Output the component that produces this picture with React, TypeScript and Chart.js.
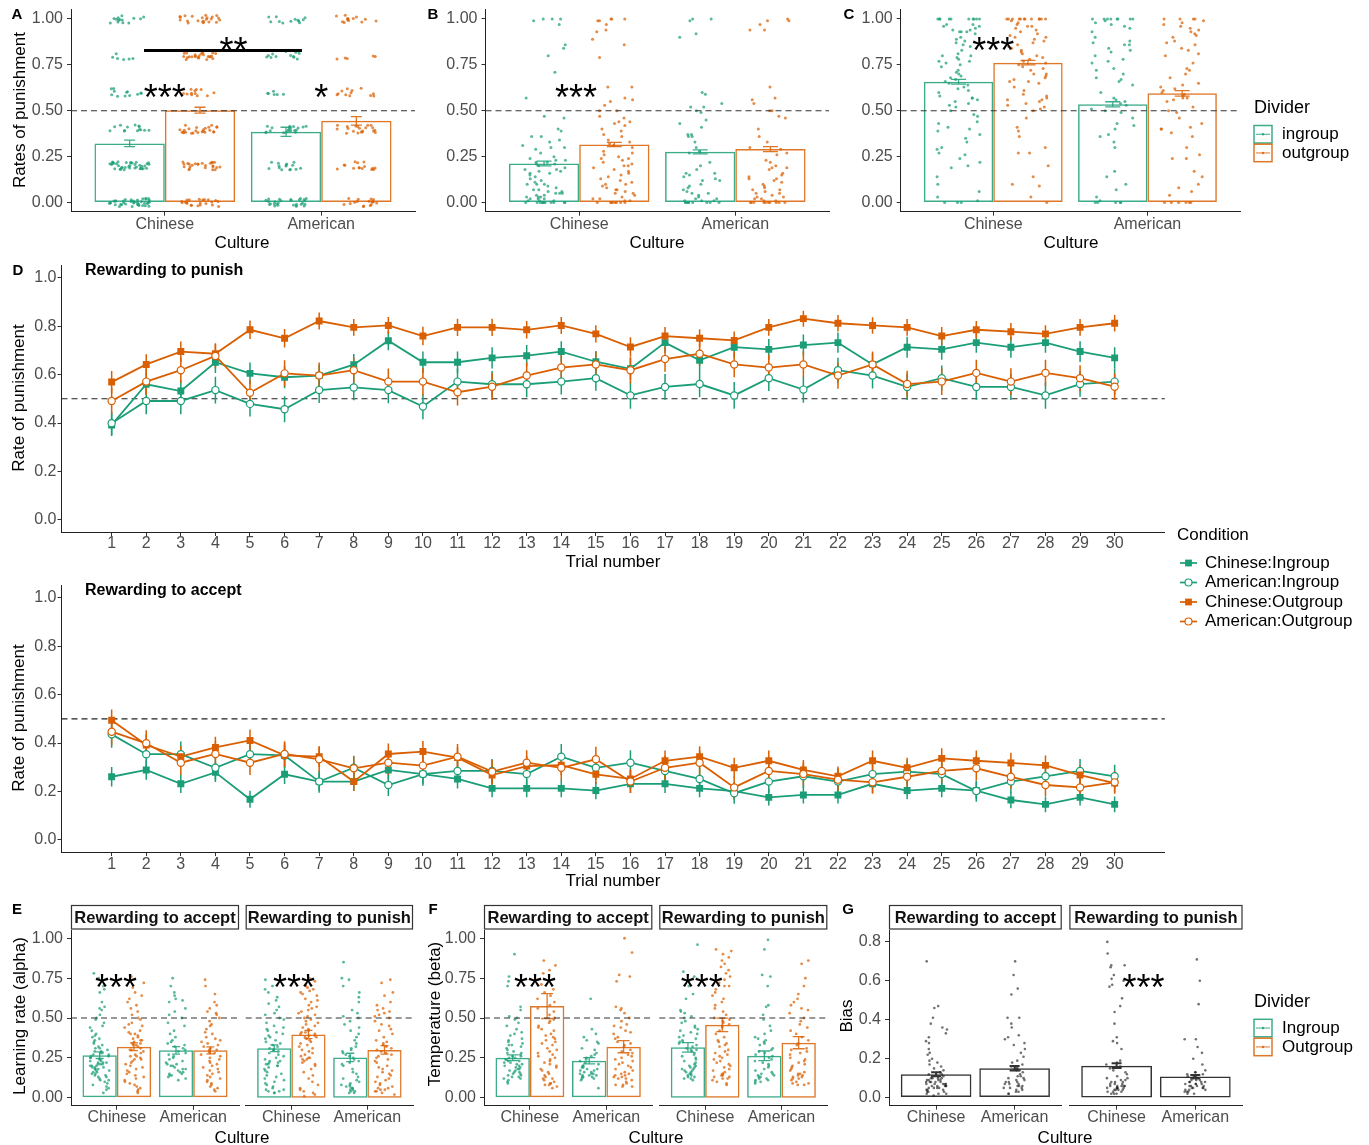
import React, { useEffect, useRef } from "react";
import { Chart, registerables } from "chart.js";

Chart.register(...registerables);

const FONT = '"Liberation Sans", Arial, Helvetica, sans-serif';
Chart.defaults.font.family = FONT;

// ---------- colours ----------
const GREEN = "#1B9E77";
const ORANGE = "#D95F02";
const GREEN_BAR = "rgba(27,158,119,0.85)";
const ORANGE_BAR = "rgba(217,95,2,0.85)";
const GREEN_PT = "rgba(27,158,119,0.72)";
const ORANGE_PT = "rgba(217,95,2,0.72)";
const GREY_BAR = "#333333";
const GREY_PT = "rgba(20,20,20,0.6)";
const TICK_COLOR = "#4D4D4D";
const AXIS_COLOR = "#222222";

// ---------- labels ----------
const CULTURES = ["Chinese", "American"];
const DIVIDERS = ["ingroup", "outgroup"];
const DIVIDERS_CAP = ["Ingroup", "Outgroup"];
const CONDITIONS = ["Chinese:Ingroup", "American:Ingroup", "Chinese:Outgroup", "American:Outgroup"];
const TRIALS = [1, 2, 3, 4, 5, 6, 7, 8, 9, 10, 11, 12, 13, 14, 15, 16, 17, 18, 19, 20, 21, 22, 23, 24, 25, 26, 27, 28, 29, 30];
const RATE_TICKS = [0, 0.25, 0.5, 0.75, 1];
const D_TICKS = [0, 0.2, 0.4, 0.6, 0.8, 1];
const BIAS_TICKS = [0, 0.2, 0.4, 0.6, 0.8];

// ---------- panel A (rates take discrete levels; counts of participants per level) ----------
const A_LEVELS = [0, 0.2, 0.4, 0.6, 0.8, 1];
const A_CN_IN_N = [40, 38, 14, 12, 6, 14];
const A_CN_OUT_N = [22, 25, 25, 12, 25, 22];
const A_US_IN_N = [28, 15, 20, 6, 12, 12];
const A_US_OUT_N = [17, 15, 20, 12, 5, 13];
const A_BAR_IN = [0.322, 0.385];
const A_BAR_OUT = [0.503, 0.445];
const A_SE_IN = [0.018, 0.025];
const A_SE_OUT = [0.016, 0.023];

// ---------- panel B (values in hundredths) ----------
const B_CN_IN = [100, 100, 99, 100, 97, 86, 84, 80, 71, 57, 47, 46, 40, 39, 36, 36, 34, 33, 31, 30, 30, 29, 27, 25, 24, 23, 23, 22, 22, 21, 21, 20, 19, 18, 18, 17, 17, 16, 16, 15, 14, 13, 12, 11, 10, 10, 10, 9, 8, 7, 7, 6, 6, 5, 5, 5, 4, 4, 3, 3, 3, 2, 2, 2, 1, 1, 1, 0, 0, 0, 0, 0, 0, 0, 0, 0, 0, 0];
const B_CN_OUT = [100, 100, 99, 100, 99, 97, 94, 93, 89, 86, 79, 63, 63, 57, 56, 55, 53, 50, 50, 47, 46, 44, 44, 43, 42, 40, 39, 37, 36, 34, 33, 32, 31, 30, 28, 27, 26, 25, 24, 24, 23, 22, 21, 20, 20, 19, 18, 17, 16, 15, 14, 13, 12, 11, 10, 10, 9, 8, 7, 7, 6, 5, 5, 4, 3, 2, 2, 1, 1, 0, 0, 0, 0, 0, 0, 0, 0];
const B_US_IN = [100, 100, 99, 92, 90, 60, 59, 54, 52, 52, 50, 49, 45, 43, 41, 37, 37, 36, 36, 33, 30, 28, 27, 22, 20, 18, 16, 16, 15, 14, 13, 12, 12, 10, 9, 8, 7, 6, 5, 5, 4, 3, 2, 2, 1, 1, 1, 0, 0, 0, 0, 0, 0, 0, 0, 0];
const B_US_OUT = [100, 99, 99, 97, 94, 94, 63, 57, 56, 54, 50, 50, 47, 46, 40, 36, 33, 30, 29, 27, 26, 23, 22, 20, 19, 19, 18, 16, 15, 14, 13, 13, 12, 11, 10, 9, 8, 7, 7, 6, 5, 5, 4, 3, 3, 2, 2, 1, 1, 0, 0, 0, 0, 0, 0, 0, 0, 0, 0];
const B_BAR_IN = [0.213, 0.276];
const B_BAR_OUT = [0.316, 0.291];
const B_SE_IN = [0.013, 0.011];
const B_SE_OUT = [0.012, 0.014];

// ---------- panel C ----------
const C_CN_IN = [100, 100, 100, 100, 100, 100, 100, 100, 100, 100, 97, 97, 96, 96, 95, 94, 94, 93, 93, 93, 92, 90, 89, 88, 87, 86, 85, 83, 81, 80, 80, 79, 78, 77, 77, 76, 75, 74, 72, 71, 70, 69, 68, 67, 66, 65, 64, 63, 62, 61, 60, 58, 57, 57, 56, 55, 54, 53, 52, 50, 48, 47, 44, 43, 41, 40, 39, 37, 35, 33, 30, 29, 27, 26, 24, 22, 20, 19, 14, 10, 6, 3, 1, 0, 0, 0];
const C_CN_OUT = [100, 100, 100, 100, 100, 100, 100, 100, 100, 100, 100, 100, 99, 98, 97, 96, 96, 95, 94, 93, 92, 91, 90, 90, 89, 88, 87, 86, 85, 84, 83, 82, 81, 80, 79, 78, 77, 76, 75, 74, 73, 72, 70, 70, 69, 68, 67, 66, 66, 65, 63, 61, 59, 58, 57, 56, 56, 55, 54, 53, 52, 51, 50, 46, 41, 39, 36, 30, 27, 27, 20, 14, 10, 9, 3, 0];
const C_US_IN = [100, 100, 100, 100, 100, 100, 100, 100, 99, 98, 97, 96, 95, 93, 90, 88, 87, 86, 86, 84, 83, 82, 80, 78, 77, 76, 73, 72, 70, 68, 67, 66, 64, 60, 57, 56, 55, 54, 53, 51, 50, 49, 46, 43, 42, 40, 37, 36, 33, 30, 17, 14, 10, 7, 3, 1, 0, 0, 0, 0, 0];
const C_US_OUT = [100, 100, 100, 100, 99, 98, 97, 96, 95, 94, 93, 92, 91, 90, 88, 87, 86, 84, 83, 81, 80, 76, 73, 72, 70, 68, 65, 64, 63, 62, 61, 60, 59, 58, 57, 57, 56, 55, 52, 50, 49, 46, 43, 41, 40, 40, 38, 36, 30, 26, 24, 24, 17, 14, 10, 8, 6, 4, 0, 0, 0, 0, 0, 0];
const C_BAR_IN = [0.658, 0.535];
const C_BAR_OUT = [0.762, 0.595];
const C_SE_IN = [0.013, 0.014];
const C_SE_OUT = [0.012, 0.015];

// ---------- panel D (trial-by-trial means) ----------
const PUN_CN_IN = [0.392, 0.56, 0.532, 0.651, 0.605, 0.589, 0.596, 0.641, 0.74, 0.651, 0.651, 0.669, 0.678, 0.695, 0.653, 0.624, 0.732, 0.659, 0.713, 0.704, 0.722, 0.732, 0.642, 0.713, 0.704, 0.732, 0.713, 0.732, 0.695, 0.669];
const PUN_US_IN = [0.399, 0.491, 0.491, 0.536, 0.479, 0.457, 0.536, 0.547, 0.536, 0.468, 0.571, 0.56, 0.56, 0.571, 0.585, 0.514, 0.549, 0.561, 0.514, 0.585, 0.538, 0.618, 0.596, 0.549, 0.585, 0.549, 0.549, 0.514, 0.561, 0.571];
const PUN_CN_OUT = [0.569, 0.642, 0.695, 0.686, 0.785, 0.75, 0.821, 0.795, 0.803, 0.759, 0.795, 0.795, 0.785, 0.803, 0.768, 0.714, 0.759, 0.75, 0.741, 0.795, 0.831, 0.812, 0.803, 0.795, 0.759, 0.785, 0.777, 0.768, 0.795, 0.812];
const PUN_US_OUT = [0.491, 0.571, 0.618, 0.677, 0.525, 0.605, 0.596, 0.618, 0.571, 0.571, 0.527, 0.55, 0.596, 0.629, 0.642, 0.618, 0.664, 0.686, 0.642, 0.629, 0.642, 0.596, 0.642, 0.561, 0.571, 0.607, 0.571, 0.607, 0.585, 0.55];
const PUN_CN_IN_SE = [0.046, 0.045, 0.045, 0.044, 0.045, 0.045, 0.045, 0.044, 0.04, 0.044, 0.044, 0.044, 0.044, 0.043, 0.044, 0.045, 0.042, 0.044, 0.043, 0.043, 0.043, 0.042, 0.045, 0.043, 0.043, 0.042, 0.043, 0.042, 0.043, 0.044];
const PUN_US_IN_SE = [0.048, 0.055, 0.055, 0.055, 0.052, 0.054, 0.053, 0.053, 0.054, 0.052, 0.054, 0.055, 0.054, 0.053, 0.052, 0.055, 0.053, 0.054, 0.055, 0.053, 0.054, 0.052, 0.053, 0.054, 0.052, 0.053, 0.054, 0.055, 0.053, 0.054];
const PUN_CN_OUT_SE = [0.046, 0.042, 0.042, 0.04, 0.038, 0.038, 0.035, 0.035, 0.035, 0.038, 0.036, 0.036, 0.036, 0.035, 0.036, 0.04, 0.037, 0.037, 0.037, 0.035, 0.033, 0.034, 0.034, 0.035, 0.037, 0.036, 0.036, 0.036, 0.035, 0.034];
const PUN_US_OUT_SE = [0.055, 0.054, 0.053, 0.052, 0.055, 0.054, 0.054, 0.053, 0.054, 0.056, 0.055, 0.055, 0.054, 0.053, 0.052, 0.054, 0.052, 0.051, 0.053, 0.053, 0.053, 0.054, 0.053, 0.055, 0.055, 0.054, 0.055, 0.054, 0.054, 0.055];

const ACC_CN_IN = [0.261, 0.289, 0.232, 0.279, 0.168, 0.271, 0.241, 0.241, 0.289, 0.272, 0.252, 0.213, 0.213, 0.213, 0.204, 0.232, 0.232, 0.213, 0.202, 0.176, 0.186, 0.186, 0.232, 0.204, 0.213, 0.204, 0.165, 0.147, 0.176, 0.147];
const ACC_US_IN = [0.436, 0.354, 0.354, 0.298, 0.354, 0.349, 0.241, 0.298, 0.227, 0.272, 0.285, 0.285, 0.272, 0.344, 0.298, 0.319, 0.285, 0.252, 0.193, 0.241, 0.263, 0.241, 0.272, 0.282, 0.272, 0.202, 0.241, 0.263, 0.285, 0.263];
const ACC_CN_OUT = [0.494, 0.392, 0.344, 0.382, 0.411, 0.349, 0.344, 0.241, 0.355, 0.365, 0.34, 0.268, 0.305, 0.309, 0.271, 0.252, 0.327, 0.344, 0.298, 0.327, 0.289, 0.263, 0.327, 0.298, 0.337, 0.327, 0.318, 0.308, 0.268, 0.235];
const ACC_US_OUT = [0.447, 0.399, 0.319, 0.355, 0.319, 0.355, 0.333, 0.296, 0.319, 0.307, 0.344, 0.282, 0.319, 0.298, 0.333, 0.241, 0.298, 0.319, 0.217, 0.285, 0.272, 0.249, 0.238, 0.261, 0.285, 0.296, 0.261, 0.227, 0.217, 0.238];
const ACC_CN_IN_SE = [0.04, 0.04, 0.038, 0.04, 0.035, 0.04, 0.038, 0.038, 0.04, 0.04, 0.039, 0.037, 0.037, 0.037, 0.036, 0.038, 0.038, 0.037, 0.036, 0.034, 0.035, 0.035, 0.038, 0.036, 0.037, 0.036, 0.034, 0.032, 0.034, 0.032];
const ACC_US_IN_SE = [0.055, 0.052, 0.052, 0.05, 0.052, 0.052, 0.046, 0.05, 0.045, 0.048, 0.049, 0.049, 0.048, 0.052, 0.05, 0.051, 0.049, 0.047, 0.043, 0.046, 0.048, 0.046, 0.048, 0.049, 0.048, 0.044, 0.046, 0.048, 0.049, 0.048];
const ACC_CN_OUT_SE = [0.045, 0.044, 0.043, 0.044, 0.045, 0.043, 0.043, 0.039, 0.043, 0.044, 0.043, 0.04, 0.042, 0.042, 0.04, 0.04, 0.042, 0.043, 0.041, 0.042, 0.041, 0.04, 0.042, 0.041, 0.042, 0.042, 0.042, 0.041, 0.04, 0.039];
const ACC_US_OUT_SE = [0.055, 0.054, 0.051, 0.053, 0.051, 0.053, 0.052, 0.05, 0.051, 0.051, 0.052, 0.049, 0.051, 0.05, 0.052, 0.047, 0.05, 0.051, 0.045, 0.049, 0.049, 0.047, 0.047, 0.048, 0.049, 0.05, 0.048, 0.046, 0.045, 0.047];

// ---------- panel E (learning rate, hundredths) ----------
const E_ACC_CN_IN = [78, 75, 70, 68, 66, 60, 57, 56, 55, 52, 50, 49, 47, 45, 44, 42, 40, 39, 38, 37, 36, 35, 34, 33, 32, 31, 31, 30, 29, 29, 28, 28, 27, 27, 26, 26, 25, 25, 24, 24, 23, 23, 22, 22, 22, 21, 21, 21, 20, 20, 20, 19, 19, 19, 18, 18, 18, 17, 17, 16, 16, 15, 15, 14, 14, 13, 13, 12, 11, 11, 10, 9, 8, 7, 6, 5, 3];
const E_ACC_CN_OUT = [76, 74, 72, 69, 66, 64, 62, 60, 58, 56, 54, 52, 50, 49, 47, 46, 45, 44, 42, 41, 40, 40, 39, 38, 37, 36, 36, 35, 34, 34, 33, 33, 32, 31, 30, 30, 29, 28, 27, 26, 26, 25, 24, 24, 23, 22, 21, 20, 19, 18, 17, 16, 15, 14, 13, 12, 11, 10, 9, 8, 7, 6, 5, 4, 3];
const E_ACC_US_IN = [75, 70, 66, 64, 62, 61, 60, 56, 54, 52, 50, 47, 45, 42, 40, 38, 36, 35, 34, 33, 32, 31, 30, 29, 28, 27, 26, 25, 24, 23, 22, 21, 21, 20, 20, 19, 18, 18, 17, 16, 16, 15, 15, 14, 14, 13, 12, 11];
const E_ACC_US_OUT = [74, 70, 65, 60, 58, 56, 54, 53, 52, 50, 48, 46, 45, 43, 41, 40, 38, 37, 36, 35, 34, 33, 32, 31, 30, 30, 29, 28, 28, 27, 26, 25, 24, 23, 22, 21, 20, 19, 18, 17, 16, 15, 14, 13, 12, 11, 10, 9, 8, 7, 6, 5, 4];
const E_PUN_CN_IN = [74, 70, 68, 66, 63, 61, 59, 57, 55, 53, 52, 50, 49, 47, 45, 44, 43, 42, 41, 40, 39, 38, 37, 36, 35, 34, 33, 32, 31, 30, 30, 29, 28, 27, 26, 25, 24, 23, 23, 22, 22, 21, 21, 20, 20, 19, 18, 17, 16, 15, 14, 13, 12, 11, 10, 9, 8, 7, 6, 5, 5, 4, 4, 3, 3];
const E_PUN_CN_OUT = [75, 73, 70, 69, 68, 67, 66, 65, 64, 62, 61, 60, 58, 57, 56, 55, 54, 53, 52, 51, 50, 49, 48, 47, 46, 45, 44, 43, 42, 41, 41, 40, 40, 39, 39, 38, 38, 37, 36, 35, 34, 33, 32, 31, 30, 29, 28, 27, 26, 25, 25, 24, 24, 23, 22, 21, 20, 18, 16, 14, 12, 10, 8, 6, 5, 4, 3, 2, 1];
const E_PUN_US_IN = [85, 75, 74, 70, 66, 63, 60, 55, 53, 51, 50, 48, 46, 44, 42, 40, 38, 36, 34, 32, 31, 30, 29, 28, 27, 26, 25, 24, 23, 22, 21, 20, 18, 16, 15, 13, 12, 11, 10, 9, 8, 8, 7, 7, 6, 6, 5, 5, 4, 4, 3, 3];
const E_PUN_US_OUT = [74, 72, 66, 64, 60, 58, 56, 55, 54, 53, 52, 51, 50, 48, 46, 45, 43, 42, 40, 38, 36, 35, 34, 33, 32, 31, 30, 29, 28, 27, 26, 25, 24, 23, 22, 20, 19, 18, 17, 16, 15, 14, 13, 12, 11, 10, 9, 8, 7, 6, 6, 5, 5, 4, 4, 3, 2];
const E_ACC_BAR_IN = [0.267, 0.297];
const E_ACC_BAR_OUT = [0.32, 0.297];
const E_ACC_SE_IN = [0.021, 0.023];
const E_ACC_SE_OUT = [0.024, 0.022];
const E_PUN_BAR_IN = [0.31, 0.253];
const E_PUN_BAR_OUT = [0.397, 0.3];
const E_PUN_SE_IN = [0.021, 0.026];
const E_PUN_SE_OUT = [0.026, 0.027];

// ---------- panel F (temperature, hundredths) ----------
const F_ACC_CN_IN = [90, 76, 73, 70, 57, 55, 51, 50, 49, 47, 45, 43, 41, 40, 39, 37, 36, 35, 34, 33, 33, 32, 31, 30, 29, 28, 28, 27, 26, 26, 25, 25, 24, 24, 23, 23, 22, 22, 21, 21, 20, 20, 19, 19, 18, 18, 17, 17, 16, 16, 15, 15, 14, 14, 13, 13, 12, 12, 11, 10, 9];
const F_ACC_CN_OUT = [86, 83, 80, 78, 74, 71, 68, 66, 64, 62, 60, 58, 56, 54, 52, 50, 49, 48, 47, 45, 44, 43, 42, 40, 39, 38, 37, 36, 35, 34, 33, 31, 30, 29, 28, 27, 26, 25, 24, 23, 22, 21, 20, 19, 18, 17, 16, 15, 14, 13, 12, 12, 11, 10, 9, 9, 8, 8, 7, 6];
const F_ACC_US_IN = [62, 43, 40, 38, 36, 35, 34, 31, 30, 28, 27, 26, 25, 24, 23, 22, 21, 20, 20, 19, 19, 18, 18, 17, 17, 16, 16, 15, 15, 15, 14, 14, 14, 13, 13, 13, 12, 12, 11, 6];
const F_ACC_US_OUT = [100, 91, 77, 76, 73, 57, 56, 55, 53, 50, 48, 46, 45, 44, 42, 41, 40, 38, 37, 35, 34, 33, 32, 30, 29, 28, 27, 26, 25, 24, 23, 22, 21, 20, 19, 18, 17, 16, 15, 15, 14, 14, 13, 13, 12, 12, 11, 10, 9, 8, 8, 7, 7];
const F_PUN_CN_IN = [96, 79, 76, 73, 70, 65, 62, 55, 54, 53, 51, 50, 48, 47, 45, 44, 43, 42, 41, 40, 39, 38, 37, 36, 35, 35, 34, 33, 32, 31, 30, 30, 29, 28, 27, 26, 25, 24, 23, 22, 21, 20, 20, 19, 19, 18, 18, 17, 17, 16, 16, 15, 15, 14, 14, 13, 13, 12, 12, 11];
const F_PUN_CN_OUT = [93, 92, 90, 88, 86, 84, 82, 80, 78, 76, 74, 72, 70, 70, 68, 66, 64, 62, 60, 58, 56, 54, 52, 50, 49, 48, 47, 46, 45, 44, 42, 40, 38, 36, 35, 34, 33, 32, 30, 29, 28, 27, 26, 25, 24, 23, 22, 21, 20, 19, 18, 17, 16, 15, 15, 14, 14, 13, 13, 12, 12, 11, 10, 9, 8];
const F_PUN_US_IN = [99, 93, 77, 76, 70, 58, 57, 52, 49, 45, 42, 40, 38, 37, 36, 35, 34, 33, 31, 30, 29, 28, 27, 26, 25, 24, 23, 22, 21, 20, 19, 18, 17, 16, 15, 15, 14, 14, 13, 13, 12, 12, 11, 11, 10, 10, 9];
const F_PUN_US_OUT = [86, 84, 75, 70, 65, 62, 60, 58, 56, 55, 53, 50, 48, 46, 44, 42, 40, 38, 36, 34, 33, 31, 30, 29, 28, 27, 25, 24, 23, 22, 21, 20, 19, 18, 17, 16, 15, 15, 14, 14, 13, 13, 12, 12, 11, 10, 9, 9, 8, 8];
const F_ACC_BAR_IN = [0.251, 0.232];
const F_ACC_BAR_OUT = [0.575, 0.32];
const F_ACC_SE_IN = [0.018, 0.02];
const F_ACC_SE_OUT = [0.078, 0.038];
const F_PUN_BAR_IN = [0.316, 0.263];
const F_PUN_BAR_OUT = [0.457, 0.345];
const F_PUN_SE_IN = [0.03, 0.03];
const F_PUN_SE_OUT = [0.042, 0.038];

// ---------- panel G (bias, hundredths) ----------
const G_ACC_CN = [70, 47, 46, 41, 38, 36, 35, 33, 31, 29, 28, 25, 23, 22, 20, 19, 18, 17, 16, 15, 14, 13, 13, 12, 12, 11, 11, 11, 10, 10, 10, 10, 9, 9, 9, 9, 8, 8, 8, 8, 8, 7, 7, 7, 7, 7, 6, 6, 6, 6, 6, 5, 5, 5, 5, 4, 4, 4, 3, 3, 3, 2, 2, 2, 1];
const G_ACC_US = [70, 63, 56, 53, 41, 41, 38, 36, 32, 31, 30, 28, 27, 25, 23, 21, 19, 18, 17, 16, 16, 15, 15, 14, 14, 13, 12, 11, 11, 10, 10, 9, 9, 8, 8, 8, 7, 7, 7, 6, 6, 6, 5, 5, 5, 4, 4, 3, 3, 2, 2];
const G_PUN_CN = [80, 74, 68, 68, 67, 63, 61, 60, 58, 57, 51, 47, 44, 38, 31, 29, 28, 25, 19, 18, 17, 16, 15, 14, 13, 12, 11, 10, 10, 9, 9, 8, 8, 8, 7, 7, 7, 6, 6, 6, 6, 6, 5, 5, 5, 5, 5, 4, 4, 4, 4, 3, 3, 3, 2, 2, 2];
const G_PUN_US = [71, 60, 48, 30, 30, 26, 23, 20, 17, 14, 13, 13, 12, 12, 11, 11, 11, 10, 10, 10, 9, 9, 9, 8, 8, 8, 8, 7, 7, 7, 7, 6, 6, 6, 6, 5, 5, 5, 5, 4, 4, 4, 3, 3, 3, 2, 2];
const G_ACC_BAR = [0.12, 0.151];
const G_ACC_SE = [0.01, 0.012];
const G_PUN_BAR = [0.164, 0.108];
const G_PUN_SE = [0.012, 0.008];

// ---------- helpers ----------
const hund = (a: number[]) => a.map((v) => v / 100);

// deterministic integer hash -> [0,1): used only to spread marker positions (jitter)
function hash01(n: number, salt: number) {
  let h = Math.imul(n + 1, 374761393) ^ Math.imul(salt + 7, 668265263);
  h = Math.imul(h ^ (h >>> 13), 1274126177);
  h ^= h >>> 16;
  return (h >>> 0) / 4294967296;
}

// small vertical spread around each discrete level (position only)
function expandLevels(counts: number[], salt: number) {
  const out: number[] = [];
  counts.forEach((n, k) => {
    for (let i = 0; i < n; i++) {
      out.push(A_LEVELS[k] + (hash01(i + k * 101, salt + 991) - 0.5) * 0.045);
    }
  });
  return out;
}

// deterministic horizontal spread of points inside a bar (position only)
function jitter(vals: number[], cx: number, half: number, salt: number) {
  return vals.map((v, i) => ({ x: cx + (hash01(i, salt) - 0.5) * 2 * half, y: v }));
}

type TextItem = { t: string; x: number; y: number; size: number; bold?: boolean; color?: string; align?: CanvasTextAlign; rot?: boolean };

function drawText(ctx: CanvasRenderingContext2D, it: TextItem, ox: number, oy: number) {
  ctx.save();
  ctx.font = `${it.bold ? "bold " : ""}${it.size}px ${FONT}`;
  ctx.fillStyle = it.color || "#000";
  ctx.textAlign = it.align || "center";
  ctx.textBaseline = "middle";
  const x = it.x - ox;
  const y = it.y - oy;
  if (it.rot) {
    ctx.translate(x, y);
    ctx.rotate(-Math.PI / 2);
    ctx.fillText(it.t, 0, 0);
  } else {
    ctx.fillText(it.t, x, y);
  }
  ctx.restore();
}

function drawStars(ctx: CanvasRenderingContext2D, t: string, px: number, py: number, size: number) {
  ctx.save();
  ctx.font = `${size}px ${FONT}`;
  ctx.fillStyle = "#000";
  ctx.textAlign = "center";
  ctx.textBaseline = "alphabetic";
  const m = ctx.measureText(t);
  ctx.fillText(t, px, py + (m.actualBoundingBoxAscent - m.actualBoundingBoxDescent) / 2);
  ctx.restore();
}

function axisCommon() {
  return {
    grid: { display: true, drawOnChartArea: false, drawTicks: true, tickLength: 4, tickColor: "#333", offset: false },
    border: { display: true, color: AXIS_COLOR, width: 1 },
  };
}

// ---------- bar facet ----------
interface Grp { dx: number; bars: number[]; se: number[]; pts: number[][]; stroke: string; fill: string }
interface LegendSpec { title: string; x: number; titleY: number; keyY: number[]; labels: string[]; colors: string[] }
interface FacetSpec {
  kind: "facet";
  origin: [number, number]; W: number; H: number; area: [number, number, number, number];
  yMin: number; yMax: number; yTicks: number[]; yDigits: number; showY: boolean;
  groups: Grp[]; jitter: number; ptR: number; cap: number; ebWidth: number; xPad: number; salt: number;
  hline?: number; stars?: { t: string; x: number; y: number }[];
  sig?: { x1: number; x2: number; y: number }; strip?: string;
  texts?: TextItem[]; legend?: LegendSpec;
}

function facetPlugin(spec: FacetSpec) {
  const [ox, oy] = spec.origin;
  return {
    id: "facetDeco",
    afterDatasetsDraw(chart: any) {
      const ctx = chart.ctx, xs = chart.scales.x, ys = chart.scales.y, a = chart.chartArea;
      spec.groups.forEach((g) => {
        g.bars.forEach((v, i) => {
          const px = xs.getPixelForValue(i + 1 + g.dx);
          const y1 = ys.getPixelForValue(v - g.se[i]);
          const y2 = ys.getPixelForValue(v + g.se[i]);
          ctx.save();
          ctx.strokeStyle = g.stroke;
          ctx.lineWidth = spec.ebWidth;
          ctx.beginPath();
          ctx.moveTo(px, y1); ctx.lineTo(px, y2);
          ctx.moveTo(px - spec.cap / 2, y1); ctx.lineTo(px + spec.cap / 2, y1);
          ctx.moveTo(px - spec.cap / 2, y2); ctx.lineTo(px + spec.cap / 2, y2);
          ctx.stroke();
          ctx.restore();
        });
      });
      if (spec.hline !== undefined) {
        const py = ys.getPixelForValue(spec.hline);
        ctx.save();
        ctx.strokeStyle = "#333";
        ctx.lineWidth = 1.1;
        ctx.setLineDash([6, 4]);
        ctx.beginPath(); ctx.moveTo(a.left, py); ctx.lineTo(a.right, py); ctx.stroke();
        ctx.restore();
      }
      if (spec.sig) {
        const py = ys.getPixelForValue(spec.sig.y);
        ctx.save();
        ctx.strokeStyle = "#000";
        ctx.lineWidth = 3;
        ctx.beginPath();
        ctx.moveTo(xs.getPixelForValue(spec.sig.x1), py);
        ctx.lineTo(xs.getPixelForValue(spec.sig.x2), py);
        ctx.stroke();
        ctx.restore();
      }
      (spec.stars || []).forEach((s) => drawStars(ctx, s.t, xs.getPixelForValue(s.x), ys.getPixelForValue(s.y), 36));
    },
    afterDraw(chart: any) {
      const ctx = chart.ctx, a = chart.chartArea;
      if (spec.strip) {
        const top = 905 - oy, bot = 929.5 - oy;
        ctx.save();
        ctx.fillStyle = "#fff";
        ctx.fillRect(a.left, top, a.right - a.left, bot - top);
        ctx.strokeStyle = "#333";
        ctx.lineWidth = 1.2;
        ctx.strokeRect(a.left + 0.5, top + 0.5, a.right - a.left - 1, bot - top - 1);
        ctx.font = `bold 16.5px ${FONT}`;
        ctx.fillStyle = "#111";
        ctx.textAlign = "center";
        ctx.textBaseline = "middle";
        ctx.fillText(spec.strip, (a.left + a.right) / 2, (top + bot) / 2 + 1);
        ctx.restore();
      }
      (spec.texts || []).forEach((t) => drawText(ctx, t, ox, oy));
      const lg = spec.legend;
      if (lg) {
        drawText(ctx, { t: lg.title, x: lg.x, y: lg.titleY, size: 18, align: "left" }, ox, oy);
        lg.keyY.forEach((ky, i) => {
          const x = lg.x - ox, y = ky - oy;
          ctx.save();
          ctx.strokeStyle = lg.colors[i];
          ctx.lineWidth = 1.5;
          ctx.strokeRect(x, y, 18, 17.5);
          ctx.lineWidth = 1;
          ctx.beginPath(); ctx.moveTo(x + 2, y + 8.75); ctx.lineTo(x + 16, y + 8.75); ctx.stroke();
          ctx.fillStyle = lg.colors[i];
          ctx.beginPath(); ctx.arc(x + 9, y + 8.75, 1.2, 0, Math.PI * 2); ctx.fill();
          ctx.restore();
          drawText(ctx, { t: lg.labels[i], x: lg.x + 28, y: ky + 9, size: 17, align: "left" }, ox, oy);
        });
      }
    },
  };
}

function facetConfig(spec: FacetSpec): any {
  const [ox, oy] = spec.origin;
  const [L, T, R, B] = spec.area;
  const datasets: any[] = [];
  spec.groups.forEach((g, gi) =>
    g.pts.forEach((vals, ci) =>
      datasets.push({
        type: "scatter",
        data: jitter(vals, ci + 1 + g.dx, spec.jitter, spec.salt * 10 + gi * 3 + ci),
        pointRadius: spec.ptR,
        pointHoverRadius: spec.ptR,
        pointBackgroundColor: g.fill,
        pointBorderWidth: 0,
        showLine: false,
      })
    )
  );
  spec.groups.forEach((g) =>
    datasets.push({
      type: "bar",
      data: g.bars.map((v, i) => ({ x: i + 1, y: v })),
      backgroundColor: "rgba(0,0,0,0)",
      borderColor: g.stroke,
      borderWidth: 1.5,
      borderSkipped: false,
      categoryPercentage: 0.9,
      barPercentage: 1,
    })
  );
  const ac = axisCommon();
  return {
    type: "bar",
    data: { datasets },
    options: {
      responsive: false,
      animation: false,
      devicePixelRatio: 1,
      events: [],
      layout: { padding: { left: 0, top: T - oy, right: ox + spec.W - R, bottom: 0 } },
      plugins: { legend: { display: false }, tooltip: { enabled: false } },
      scales: {
        x: {
          type: "linear",
          min: 0.4,
          max: 2.6,
          offset: false,
          afterBuildTicks: (s: any) => { s.ticks = [{ value: 1 }, { value: 2 }]; },
          afterFit: (s: any) => { s.height = oy + spec.H - B; s.paddingLeft = 0; s.paddingRight = 0; },
          grid: ac.grid,
          border: ac.border,
          ticks: {
            callback: (v: number) => CULTURES[Math.round(v) - 1],
            font: { size: 16, family: FONT, lineHeight: 1 },
            color: TICK_COLOR,
            padding: spec.xPad,
            maxRotation: 0,
            autoSkip: false,
          },
        },
        y: {
          type: "linear",
          min: spec.yMin,
          max: spec.yMax,
          afterBuildTicks: (s: any) => { s.ticks = spec.yTicks.map((v) => ({ value: v })); },
          afterFit: (s: any) => { s.width = L - ox; s.paddingTop = 0; s.paddingBottom = 0; },
          grid: spec.showY ? ac.grid : { display: false },
          border: spec.showY ? ac.border : { display: false },
          ticks: {
            display: spec.showY,
            callback: (v: number) => v.toFixed(spec.yDigits),
            font: { size: 16, family: FONT, lineHeight: 1 },
            color: TICK_COLOR,
            padding: 4,
          },
        },
      },
    },
    plugins: [facetPlugin(spec)],
  };
}

// ---------- line chart (panel D) ----------
interface Series { label: string; vals: number[]; se: number[]; color: string; filled: boolean }
interface LineSpec {
  kind: "line";
  origin: [number, number]; W: number; H: number; area: [number, number, number, number];
  series: Series[]; texts: TextItem[]; legend?: boolean;
}

function drawMarker(ctx: CanvasRenderingContext2D, x: number, y: number, color: string, filled: boolean) {
  ctx.save();
  if (filled) {
    ctx.fillStyle = color;
    ctx.fillRect(x - 3.4, y - 3.4, 6.8, 6.8);
  } else {
    ctx.fillStyle = "#fff";
    ctx.strokeStyle = color;
    ctx.lineWidth = 1.2;
    ctx.beginPath(); ctx.arc(x, y, 3.5, 0, Math.PI * 2); ctx.fill(); ctx.stroke();
  }
  ctx.restore();
}

function linePlugin(spec: LineSpec) {
  const [ox, oy] = spec.origin;
  return {
    id: "lineDeco",
    beforeDatasetsDraw(chart: any) {
      const ctx = chart.ctx, xs = chart.scales.x, ys = chart.scales.y, a = chart.chartArea;
      const py = ys.getPixelForValue(0.5);
      ctx.save();
      ctx.strokeStyle = "#222";
      ctx.lineWidth = 1.1;
      ctx.setLineDash([6, 4]);
      ctx.beginPath(); ctx.moveTo(a.left, py); ctx.lineTo(a.right, py); ctx.stroke();
      ctx.restore();
      spec.series.forEach((s) => {
        ctx.save();
        ctx.strokeStyle = s.color;
        ctx.lineWidth = 1.5;
        ctx.beginPath();
        s.vals.forEach((v, i) => {
          const px = xs.getPixelForValue(TRIALS[i]);
          ctx.moveTo(px, ys.getPixelForValue(v - s.se[i]));
          ctx.lineTo(px, ys.getPixelForValue(v + s.se[i]));
        });
        ctx.stroke();
        ctx.restore();
      });
    },
    afterDraw(chart: any) {
      const ctx = chart.ctx;
      spec.texts.forEach((t) => drawText(ctx, t, ox, oy));
      if (spec.legend) {
        drawText(ctx, { t: "Condition", x: 1177, y: 535, size: 17, align: "left" }, ox, oy);
        const ys = [563, 582.5, 602, 621.5];
        spec.series.forEach((s, i) => {
          const y = ys[i] - oy;
          ctx.save();
          ctx.strokeStyle = s.color;
          ctx.lineWidth = 1.7;
          ctx.beginPath(); ctx.moveTo(1180 - ox, y); ctx.lineTo(1197 - ox, y); ctx.stroke();
          ctx.restore();
          drawMarker(ctx, 1188.5 - ox, y, s.color, s.filled);
          drawText(ctx, { t: s.label, x: 1205, y: ys[i], size: 17, align: "left" }, ox, oy);
        });
      }
    },
  };
}

function lineConfig(spec: LineSpec): any {
  const [ox, oy] = spec.origin;
  const [L, T, R, B] = spec.area;
  const ac = axisCommon();
  const datasets = spec.series
    .map((s) => ({
      type: "line",
      label: s.label,
      data: TRIALS.map((t, i) => ({ x: t, y: s.vals[i] })),
      borderColor: s.color,
      backgroundColor: s.color,
      borderWidth: 1.8,
      tension: 0,
      fill: false,
      pointStyle: s.filled ? "rect" : "circle",
      pointRadius: s.filled ? 4.9 : 3.6,
      pointHoverRadius: s.filled ? 4.9 : 3.6,
      pointBackgroundColor: s.filled ? s.color : "#ffffff",
      pointBorderColor: s.color,
      pointBorderWidth: s.filled ? 0 : 1.2,
    }))
    .reverse();
  return {
    type: "line",
    data: { datasets },
    options: {
      responsive: false,
      animation: false,
      devicePixelRatio: 1,
      events: [],
      layout: { padding: { left: 0, top: T - oy, right: ox + spec.W - R, bottom: 0 } },
      plugins: { legend: { display: false }, tooltip: { enabled: false } },
      scales: {
        x: {
          type: "linear",
          min: -0.45,
          max: 31.45,
          offset: false,
          afterBuildTicks: (s: any) => { s.ticks = TRIALS.map((v) => ({ value: v })); },
          afterFit: (s: any) => { s.height = oy + spec.H - B; s.paddingLeft = 0; s.paddingRight = 0; },
          grid: ac.grid,
          border: ac.border,
          ticks: {
            callback: (v: number) => String(v),
            font: { size: 16, family: FONT, lineHeight: 1 },
            color: TICK_COLOR,
            padding: 0,
            maxRotation: 0,
            autoSkip: false,
          },
        },
        y: {
          type: "linear",
          min: -0.05,
          max: 1.05,
          afterBuildTicks: (s: any) => { s.ticks = D_TICKS.map((v) => ({ value: v })); },
          afterFit: (s: any) => { s.width = L - ox; s.paddingTop = 0; s.paddingBottom = 0; },
          grid: ac.grid,
          border: ac.border,
          ticks: {
            callback: (v: number) => v.toFixed(1),
            font: { size: 16, family: FONT, lineHeight: 1 },
            color: TICK_COLOR,
            padding: 1,
          },
        },
      },
    },
    plugins: [linePlugin(spec)],
  };
}

// ---------- specs ----------
const RATE_Y = { yMin: -0.05, yMax: 1.05, yTicks: RATE_TICKS, yDigits: 2 };

const SPECS: (FacetSpec | LineSpec)[] = [
  {
    kind: "facet", origin: [0, 0], W: 430, H: 255, area: [71, 9.8, 415, 211.7], ...RATE_Y, showY: true, salt: 1,
    groups: [
      { dx: -0.225, bars: A_BAR_IN, se: A_SE_IN, pts: [expandLevels(A_CN_IN_N, 1), expandLevels(A_US_IN_N, 2)], stroke: GREEN_BAR, fill: GREEN_PT },
      { dx: 0.225, bars: A_BAR_OUT, se: A_SE_OUT, pts: [expandLevels(A_CN_OUT_N, 3), expandLevels(A_US_OUT_N, 4)], stroke: ORANGE_BAR, fill: ORANGE_PT },
    ],
    jitter: 0.13, ptR: 1.5, cap: 11, ebWidth: 1.3, xPad: 1, hline: 0.5,
    stars: [{ t: "**", x: 1.44, y: 0.864 }, { t: "***", x: 1.0, y: 0.605 }, { t: "*", x: 2.0, y: 0.605 }],
    sig: { x1: 0.867, x2: 1.877, y: 0.828 },
    texts: [
      { t: "A", x: 17, y: 15, size: 15, bold: true },
      { t: "Rates of punishment", x: 20, y: 110, size: 17, rot: true },
      { t: "Culture", x: 242, y: 243, size: 17 },
    ],
  },
  {
    kind: "facet", origin: [420, 0], W: 425, H: 255, area: [485.5, 9.8, 829, 211.7], ...RATE_Y, showY: true, salt: 2,
    groups: [
      { dx: -0.225, bars: B_BAR_IN, se: B_SE_IN, pts: [hund(B_CN_IN), hund(B_US_IN)], stroke: GREEN_BAR, fill: GREEN_PT },
      { dx: 0.225, bars: B_BAR_OUT, se: B_SE_OUT, pts: [hund(B_CN_OUT), hund(B_US_OUT)], stroke: ORANGE_BAR, fill: ORANGE_PT },
    ],
    jitter: 0.14, ptR: 1.5, cap: 15, ebWidth: 1.3, xPad: 1, hline: 0.5,
    stars: [{ t: "***", x: 0.98, y: 0.607 }],
    texts: [
      { t: "B", x: 433, y: 15, size: 15, bold: true },
      { t: "Culture", x: 657, y: 243, size: 17 },
    ],
  },
  {
    kind: "facet", origin: [840, 0], W: 529, H: 255, area: [900.7, 9.8, 1240, 211.7], ...RATE_Y, showY: true, salt: 3,
    groups: [
      { dx: -0.225, bars: C_BAR_IN, se: C_SE_IN, pts: [hund(C_CN_IN), hund(C_US_IN)], stroke: GREEN_BAR, fill: GREEN_PT },
      { dx: 0.225, bars: C_BAR_OUT, se: C_SE_OUT, pts: [hund(C_CN_OUT), hund(C_US_OUT)], stroke: ORANGE_BAR, fill: ORANGE_PT },
    ],
    jitter: 0.14, ptR: 1.5, cap: 15, ebWidth: 1.3, xPad: 1, hline: 0.5,
    stars: [{ t: "***", x: 1.0, y: 0.862 }],
    texts: [
      { t: "C", x: 849, y: 15, size: 15, bold: true },
      { t: "Culture", x: 1071, y: 243, size: 17 },
    ],
    legend: { title: "Divider", x: 1254, titleY: 108, keyY: [125.5, 144.2], labels: DIVIDERS, colors: [GREEN_BAR, ORANGE_BAR] },
  },
  {
    kind: "line", origin: [0, 255], W: 1369, H: 385, area: [61.5, 265.6, 1164.8, 532],
    series: [
      { label: CONDITIONS[0], vals: PUN_CN_IN, se: PUN_CN_IN_SE, color: GREEN, filled: true },
      { label: CONDITIONS[1], vals: PUN_US_IN, se: PUN_US_IN_SE, color: GREEN, filled: false },
      { label: CONDITIONS[2], vals: PUN_CN_OUT, se: PUN_CN_OUT_SE, color: ORANGE, filled: true },
      { label: CONDITIONS[3], vals: PUN_US_OUT, se: PUN_US_OUT_SE, color: ORANGE, filled: false },
    ],
    texts: [
      { t: "D", x: 18, y: 271, size: 15, bold: true },
      { t: "Rewarding to punish", x: 85, y: 271, size: 16, bold: true, align: "left" },
      { t: "Rate of punishment", x: 19, y: 398, size: 17, rot: true },
      { t: "Trial number", x: 613, y: 562, size: 17 },
    ],
    legend: true,
  },
  {
    kind: "line", origin: [0, 575], W: 1369, H: 320, area: [61.5, 585.6, 1164.8, 852.1],
    series: [
      { label: CONDITIONS[0], vals: ACC_CN_IN, se: ACC_CN_IN_SE, color: GREEN, filled: true },
      { label: CONDITIONS[1], vals: ACC_US_IN, se: ACC_US_IN_SE, color: GREEN, filled: false },
      { label: CONDITIONS[2], vals: ACC_CN_OUT, se: ACC_CN_OUT_SE, color: ORANGE, filled: true },
      { label: CONDITIONS[3], vals: ACC_US_OUT, se: ACC_US_OUT_SE, color: ORANGE, filled: false },
    ],
    texts: [
      { t: "Rewarding to accept", x: 85, y: 591, size: 16, bold: true, align: "left" },
      { t: "Rate of punishment", x: 19, y: 718, size: 17, rot: true },
      { t: "Trial number", x: 613, y: 881.7, size: 17 },
    ],
  },
  // ---- E ----
  {
    kind: "facet", origin: [0, 895], W: 300, H: 250, area: [71, 930.3, 239, 1105.7], ...RATE_Y, showY: true, salt: 4,
    groups: [
      { dx: -0.225, bars: E_ACC_BAR_IN, se: E_ACC_SE_IN, pts: [hund(E_ACC_CN_IN), hund(E_ACC_US_IN)], stroke: GREEN_BAR, fill: GREEN_PT },
      { dx: 0.225, bars: E_ACC_BAR_OUT, se: E_ACC_SE_OUT, pts: [hund(E_ACC_CN_OUT), hund(E_ACC_US_OUT)], stroke: ORANGE_BAR, fill: ORANGE_PT },
    ],
    jitter: 0.13, ptR: 1.4, cap: 8, ebWidth: 1.3, xPad: 0, hline: 0.5, strip: "Rewarding to accept",
    stars: [{ t: "***", x: 0.99, y: 0.731 }],
    texts: [
      { t: "E", x: 17, y: 910, size: 15, bold: true },
      { t: "Learning rate (alpha)", x: 20, y: 1016, size: 17, rot: true },
      { t: "Culture", x: 242, y: 1138, size: 17 },
    ],
  },
  {
    kind: "facet", origin: [240, 895], W: 180, H: 250, area: [245.7, 930.3, 413, 1105.7], ...RATE_Y, showY: false, salt: 5,
    groups: [
      { dx: -0.225, bars: E_PUN_BAR_IN, se: E_PUN_SE_IN, pts: [hund(E_PUN_CN_IN), hund(E_PUN_US_IN)], stroke: GREEN_BAR, fill: GREEN_PT },
      { dx: 0.225, bars: E_PUN_BAR_OUT, se: E_PUN_SE_OUT, pts: [hund(E_PUN_CN_OUT), hund(E_PUN_US_OUT)], stroke: ORANGE_BAR, fill: ORANGE_PT },
    ],
    jitter: 0.13, ptR: 1.4, cap: 8, ebWidth: 1.3, xPad: 0, hline: 0.5, strip: "Rewarding to punish",
    stars: [{ t: "***", x: 1.035, y: 0.731 }],
  },
  // ---- F ----
  {
    kind: "facet", origin: [420, 895], W: 300, H: 250, area: [484, 930.3, 652.3, 1105.7], ...RATE_Y, showY: true, salt: 6,
    groups: [
      { dx: -0.225, bars: F_ACC_BAR_IN, se: F_ACC_SE_IN, pts: [hund(F_ACC_CN_IN), hund(F_ACC_US_IN)], stroke: GREEN_BAR, fill: GREEN_PT },
      { dx: 0.225, bars: F_ACC_BAR_OUT, se: F_ACC_SE_OUT, pts: [hund(F_ACC_CN_OUT), hund(F_ACC_US_OUT)], stroke: ORANGE_BAR, fill: ORANGE_PT },
    ],
    jitter: 0.13, ptR: 1.4, cap: 12, ebWidth: 1.3, xPad: 0, hline: 0.5, strip: "Rewarding to accept",
    stars: [{ t: "***", x: 1.067, y: 0.731 }],
    texts: [
      { t: "F", x: 433, y: 910, size: 15, bold: true },
      { t: "Temperature (beta)", x: 435, y: 1014, size: 17, rot: true },
      { t: "Culture", x: 656, y: 1138, size: 17 },
    ],
  },
  {
    kind: "facet", origin: [655, 895], W: 185, H: 250, area: [659.3, 930.3, 827.3, 1105.7], ...RATE_Y, showY: false, salt: 7,
    groups: [
      { dx: -0.225, bars: F_PUN_BAR_IN, se: F_PUN_SE_IN, pts: [hund(F_PUN_CN_IN), hund(F_PUN_US_IN)], stroke: GREEN_BAR, fill: GREEN_PT },
      { dx: 0.225, bars: F_PUN_BAR_OUT, se: F_PUN_SE_OUT, pts: [hund(F_PUN_CN_OUT), hund(F_PUN_US_OUT)], stroke: ORANGE_BAR, fill: ORANGE_PT },
    ],
    jitter: 0.13, ptR: 1.4, cap: 12, ebWidth: 1.3, xPad: 0, hline: 0.5, strip: "Rewarding to punish",
    stars: [{ t: "***", x: 0.955, y: 0.731 }],
  },
  // ---- G ----
  {
    kind: "facet", origin: [840, 895], W: 300, H: 250, area: [889, 930, 1061.7, 1105.6],
    yMin: -0.041, yMax: 0.861, yTicks: BIAS_TICKS, yDigits: 1, showY: true, salt: 8,
    groups: [{ dx: 0, bars: G_ACC_BAR, se: G_ACC_SE, pts: [hund(G_ACC_CN), hund(G_ACC_US)], stroke: GREY_BAR, fill: GREY_PT }],
    jitter: 0.14, ptR: 1.3, cap: 10, ebWidth: 2, xPad: 0, strip: "Rewarding to accept",
    texts: [
      { t: "G", x: 848, y: 910, size: 15, bold: true },
      { t: "Bias", x: 847, y: 1016, size: 17, rot: true },
      { t: "Culture", x: 1065, y: 1138, size: 17 },
    ],
  },
  {
    kind: "facet", origin: [1064, 895], W: 305, H: 250, area: [1069.4, 930, 1242.5, 1105.6],
    yMin: -0.041, yMax: 0.861, yTicks: BIAS_TICKS, yDigits: 1, showY: false, salt: 9,
    groups: [{ dx: 0, bars: G_PUN_BAR, se: G_PUN_SE, pts: [hund(G_PUN_CN), hund(G_PUN_US)], stroke: GREY_BAR, fill: GREY_PT }],
    jitter: 0.14, ptR: 1.3, cap: 10, ebWidth: 2, xPad: 0, strip: "Rewarding to punish",
    stars: [{ t: "***", x: 1.343, y: 0.598 }],
    legend: { title: "Divider", x: 1254, titleY: 1001.7, keyY: [1019.3, 1038.2], labels: DIVIDERS_CAP, colors: [GREEN_BAR, ORANGE_BAR] },
  },
];

function ChartCanvas({ spec }: { spec: FacetSpec | LineSpec }) {
  const ref = useRef<HTMLCanvasElement>(null);
  useEffect(() => {
    const cfg = spec.kind === "line" ? lineConfig(spec as LineSpec) : facetConfig(spec as FacetSpec);
    const chart = new Chart(ref.current as HTMLCanvasElement, cfg);
    return () => chart.destroy();
  }, [spec]);
  return (
    <canvas
      ref={ref}
      width={spec.W}
      height={spec.H}
      style={{ position: "absolute", left: spec.origin[0], top: spec.origin[1], width: spec.W, height: spec.H }}
    />
  );
}

export default function App() {
  return (
    <div style={{ position: "absolute", left: 0, top: 0, width: 1369, height: 1145, background: "#ffffff", overflow: "hidden" }}>
      {SPECS.map((s, i) => (
        <ChartCanvas key={i} spec={s} />
      ))}
    </div>
  );
}
